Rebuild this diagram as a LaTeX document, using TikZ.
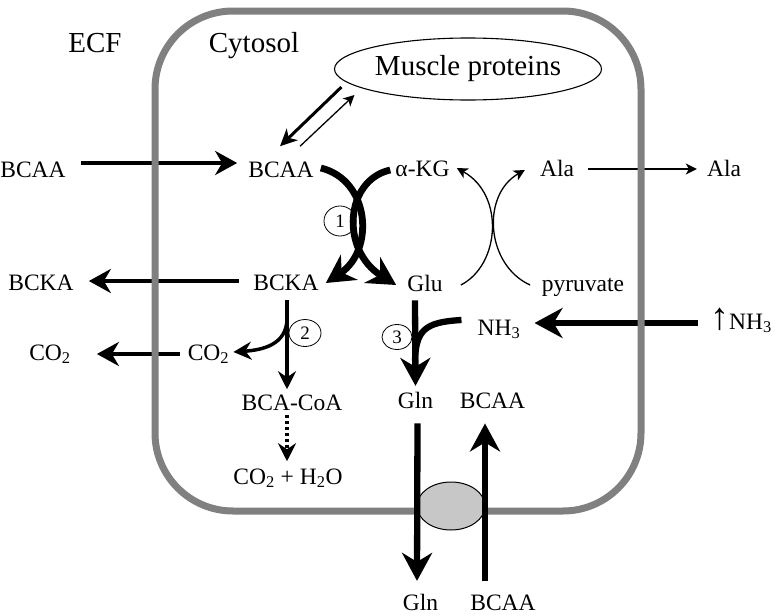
\documentclass[tikz,border=0pt]{standalone}
\usepackage{fontspec}
\setmainfont{Liberation Serif}
\usetikzlibrary{arrows.meta,shapes.geometric}
\tikzset{
	metab/.style={anchor=base, inner sep=0pt, font=\fontsize{23.5}{27}\selectfont},
	region/.style={anchor=base, inner sep=0pt, font=\fontsize{29}{32}\selectfont},
	enzyme/.style={draw, ellipse, line width=0.8pt, minimum width=32pt, minimum height=27pt, inner sep=0pt, font=\fontsize{19}{21}\selectfont},
	pool/.style={draw, ellipse, line width=1.1pt, minimum width=267pt, minimum height=62pt, inner sep=0pt, font=\fontsize{29}{32}\selectfont},
	carrier/.style={draw, ellipse, line width=1pt, fill=black!22, minimum width=68pt, minimum height=48pt},
	cellwall/.style={draw=black!50, line width=7pt, rounded corners=78pt},
	flux/.style={line width=4.5pt, -{Stealth[length=22pt,width=24pt,inset=7pt]}},
	bigflux/.style={line width=6.3pt, -{Stealth[length=28pt,width=30pt,inset=9pt]}},
	midflux/.style={line width=3.5pt, -{Stealth[length=18pt,width=18pt,inset=6pt]}},
	thinflux/.style={line width=1.3pt, -{Stealth[length=11pt,width=11pt,inset=3pt]}},
}

\begin{document}
\begin{tikzpicture}[x=1pt,y=-1pt]
	%%%%% START %%%%%
	\useasboundingbox (0,0) rectangle (777,616);
	
	\node[region] (ecf) at (95,52) {ECF};
	\node[region] (cyto) at (254,52) {Cytosol};
	\node[pool] (prot) at (468,69) {Muscle proteins};
	
	\node[metab] (bcaaE) at (33,177) {BCAA};
	\node[metab] (bcaa) at (281,177) {BCAA};
	\node[metab] (akg) at (422.5,176) {α-KG};
	\node[metab] (alaC) at (557,176) {Ala};
	\node[metab] (alaE) at (724,176) {Ala};
	
	\node[metab] (bckaE) at (41,290) {BCKA};
	\node[metab] (bcka) at (286,290) {BCKA};
	\node[metab] (glu) at (425,291) {Glu};
	\node[metab] (pyr) at (583,291) {pyruvate};
	
	\node[metab] (co2E) at (50,360) {CO\textsubscript{2}};
	\node[metab] (co2) at (208.5,360) {CO\textsubscript{2}};
	\node[metab] (nh3) at (499,335) {NH\textsubscript{3}};
	\node[metab] (nh3E) at (741,329) {{\fontsize{38}{38}\selectfont ↑}NH\textsubscript{3}};
	
	\node[metab] (coa) at (292,410) {BCA-CoA};
	\node[metab] (gln) at (415.5,408) {Gln};
	\node[metab] (bcaaT) at (492.5,408) {BCAA};
	\node[metab] (h2o) at (288,484) {CO\textsubscript{2} + H\textsubscript{2}O};
	\node[metab] (glnE) at (420.5,610) {Gln};
	\node[metab] (bcaaB) at (503,610) {BCAA};
	
	\node[enzyme, minimum height=30pt] (e1) at (340,221) {1};
	\node[enzyme] (e2) at (305,333) {2};
	\node[enzyme, minimum width=30pt, minimum height=25pt] (e3) at (397,337) {3};
	
	% exchange across the membrane
	\draw[flux] ([xshift=15pt,yshift=14pt]bcaaE.base east) -- ([xshift=-11pt,yshift=14pt]bcaa.base west);
	\draw[flux] ([xshift=-14pt,yshift=9pt]bcka.base west) -- ([xshift=15pt,yshift=9pt]bckaE.base east);
	\draw[flux] ([xshift=-8pt,yshift=6pt]co2.base west) -- ([xshift=26pt,yshift=6pt]co2E.base east);
	\draw[thinflux] ([xshift=14pt,yshift=7pt]alaC.base east) -- ([xshift=-10pt,yshift=7pt]alaE.base west);
	\draw[bigflux] ([xshift=-12pt,yshift=6pt]nh3E.base west) -- ([xshift=14pt,yshift=12pt]nh3.base east);
	
	\draw[cellwall] (155,11) rectangle (641,511);
	\node[carrier] (tp) at (451,506) {};
	
	\draw[bigflux] ([xshift=2pt,yshift=-15pt]gln.south) -- ([xshift=-3.5pt,yshift=12.6pt]glnE.north);
	\draw[bigflux] ([xshift=-18pt,yshift=13pt]bcaaB.north) -- ([xshift=-7.5pt,yshift=-15pt]bcaaT.south);
	
	% protein turnover
	\draw[line width=3pt, -{Stealth[length=17pt,width=16pt,inset=5pt]}] ([xshift=7.5pt,yshift=-18pt]prot.west) -- ([xshift=-1pt,yshift=15pt]bcaa.north);
	\draw[thinflux] ([xshift=19pt,yshift=15pt]bcaa.north) -- ([xshift=20.5pt,yshift=-26pt]prot.west);
	
	% transamination (1)
	\draw[bigflux, line width=6.8pt] ([xshift=7pt,yshift=9pt]bcaa.base east) .. controls (370,180) and (375,250) .. ([xshift=7pt,yshift=7pt]bcka.base east);
	\draw[bigflux, line width=6.8pt] ([xshift=-5pt,yshift=6pt]akg.base west) .. controls (345,180) and (340,250) .. ([xshift=-11pt,yshift=6pt]glu.base west);
	
	% alanine
	\draw[thinflux] ([xshift=18pt,yshift=6pt]glu.base east) .. controls (500,265) and (505,195) .. ([xshift=7pt,yshift=8pt]akg.base east);
	\draw[thinflux] ([xshift=-11.6pt,yshift=6pt]pyr.base west) .. controls (486,265) and (481,195) .. ([xshift=-15pt,yshift=6pt]alaC.base west);
	
	% decarboxylation (2)
	\draw[midflux] ([xshift=1pt,yshift=-10pt]bcka.south) -- ([xshift=-5pt,yshift=5pt]coa.north);
	\draw[midflux] ([xshift=1pt,yshift=-28pt]bcka.south) .. controls (287,345) and (262,350) .. ([xshift=4pt,yshift=8pt]co2.base east);
	\draw[midflux, dash pattern=on 3pt off 3pt] ([xshift=-5pt,yshift=-5pt]coa.south) -- ([xshift=-1pt,yshift=7pt]h2o.north);
	
	% glutamine synthesis (3)
	\draw[bigflux] ([xshift=-10pt,yshift=-9pt]glu.south) -- ([yshift=5.6pt]gln.north);
	\draw[line width=6.3pt] ([xshift=-16pt,yshift=15pt]nh3.base west) .. controls (425,322) and (416,330) .. ([xshift=-10pt,yshift=-69pt]glu.south);
	
	%%%%% END %%%%%
\end{tikzpicture}
\end{document}
